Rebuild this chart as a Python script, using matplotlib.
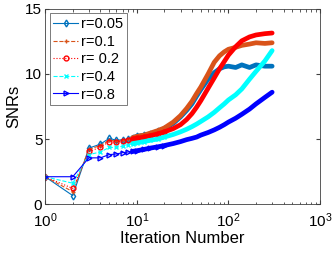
import numpy as np
import matplotlib
matplotlib.use('Agg')
import matplotlib.pyplot as plt

plt.rcParams['font.family'] = ['Liberation Sans', 'DejaVu Sans']

iters = [1, 2, 3, 4, 5, 6, 7, 8, 9, 10, 12, 14, 17, 20, 25, 30, 35, 40, 45, 50,
         60, 70, 80, 90, 100, 120, 140, 170, 200, 250, 300]

snr_005 = [2.1, 0.65, 4.3, 4.6, 5.05, 4.9, 4.95, 5.0, 5.1, 5.2, 5.3, 5.4, 5.6, 5.8, 6.2, 6.7,
           7.2, 7.7, 8.3, 8.8, 9.6, 10.1, 10.4, 10.55, 10.6, 10.5, 10.7, 10.5, 10.7, 10.6, 10.6]
snr_01 = [2.1, 0.95, 4.2, 4.5, 4.9, 4.85, 4.9, 5.0, 5.1, 5.2, 5.3, 5.45, 5.65, 5.85, 6.3, 6.8,
          7.35, 7.9, 8.5, 9.0, 10.0, 10.9, 11.4, 11.7, 11.9, 12.05, 12.2, 12.3, 12.4, 12.35, 12.4]
snr_02 = [2.1, 1.2, 4.05, 4.35, 4.8, 4.75, 4.85, 4.95, 5.0, 5.05, 5.15, 5.25, 5.4, 5.55, 5.8, 6.1,
          6.5, 6.95, 7.45, 7.95, 8.9, 9.7, 10.4, 10.95, 11.45, 12.1, 12.55, 12.85, 13.0, 13.1, 13.15]
snr_04 = [2.1, 1.6, 3.8, 4.0, 4.35, 4.35, 4.45, 4.55, 4.65, 4.7, 4.8, 4.9, 5.0, 5.15, 5.35, 5.55,
          5.75, 5.95, 6.15, 6.35, 6.7, 7.05, 7.4, 7.7, 8.0, 8.4, 8.85, 9.6, 10.2, 11.0, 11.8]
snr_08 = [2.1, 2.1, 3.55, 3.55, 3.8, 3.85, 3.95, 4.0, 4.05, 4.1, 4.2, 4.3, 4.4, 4.5, 4.65, 4.8,
          4.95, 5.05, 5.15, 5.3, 5.5, 5.7, 5.9, 6.1, 6.3, 6.6, 6.9, 7.3, 7.7, 8.2, 8.6]

labels = ['r=0.05', 'r=0.1', 'r= 0.2', 'r=0.4', 'r=0.8']
series = [snr_005, snr_01, snr_02, snr_04, snr_08]
colors = ['#0072BD', '#D95319', '#FF0000', '#00FFFF', '#0000FF']
styles = ['-', '--', ':', '--', '-']
markers = ['d', '+', 'o', 'x', '>']

fig = plt.figure(figsize=(3.32, 2.56), dpi=100)
ax = fig.add_axes([0.136, 0.203, 0.828, 0.762])

x = np.array(iters)
for ys, lab, c, ls, mk in zip(series, labels, colors, styles, markers):
    ys = np.array(ys)
    early = x <= 20
    ax.plot(x[early], ys[early], linestyle=ls, color=c, marker=mk, markersize=3.5,
            markerfacecolor='none', linewidth=0.8)
    # dense markers in the original merge into a thick band
    late = x >= 9
    ax.plot(x[late], ys[late], '-', color=c, linewidth=3.4, solid_capstyle='round')
    # legend handle
    ax.plot([], [], linestyle=ls, color=c, marker=mk, markersize=3.5,
            markerfacecolor='none', linewidth=0.8, label=lab)

ax.set_xscale('log')
ax.set_xlim(1, 1000)
ax.set_ylim(0, 15)
ax.set_yticks([0, 5, 10, 15])
ax.set_xlabel('Iteration Number', fontsize=12, labelpad=1)
ax.set_ylabel('SNRs', fontsize=12, labelpad=3)
ax.tick_params(direction='in', which='both', top=True, right=True, labelsize=11,
               color='#404040', length=3)
ax.tick_params(axis='x', pad=5)
ax.tick_params(axis='y', pad=2)
ax.tick_params(which='minor', length=1.8)
for s in ax.spines.values():
    s.set_color('#404040')
    s.set_linewidth(0.6)

leg = ax.legend(loc='upper left', fontsize=10.5, frameon=True, fancybox=False,
                borderaxespad=0.3, handlelength=1.7, handletextpad=0.2,
                labelspacing=0.25, borderpad=0.25)
leg.get_frame().set_edgecolor('#404040')
leg.get_frame().set_linewidth(0.6)

fig.savefig('out.png', dpi=100)
